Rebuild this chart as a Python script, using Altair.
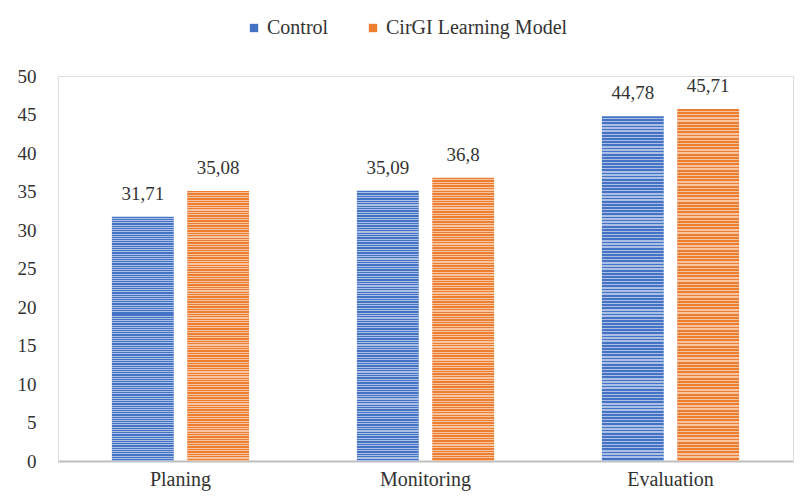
import altair as alt
import pandas as pd

categories = ["Planing", "Monitoring", "Evaluation"]
series = ["Control", "CirGI Learning Model"]
control_values = [31.71, 35.09, 44.78]
cirgi_values = [35.08, 36.8, 45.71]
colors = ["#4472C4", "#ED7D31"]

rows = []
for c, v in zip(categories, control_values):
    rows.append({"category": c, "series": series[0], "value": v})
for c, v in zip(categories, cirgi_values):
    rows.append({"category": c, "series": series[1], "value": v})
df = pd.DataFrame(rows)

FONT = "Liberation Serif"

# fine horizontal white stripe texture (style only)
N = 110
stops = []
for i in range(N):
    a = i / N
    b = (i + 0.55) / N
    e = (i + 1) / N
    stops += [
        {"offset": a, "color": "rgba(255,255,255,0)"},
        {"offset": b, "color": "rgba(255,255,255,0)"},
        {"offset": b, "color": "rgba(255,255,255,0.55)"},
        {"offset": e, "color": "rgba(255,255,255,0.55)"},
    ]
stripe = {"gradient": "linear", "x1": 0, "y1": 0, "x2": 0, "y2": 1, "stops": stops}

x_enc = alt.X("category:N", sort=categories, title=None,
              scale=alt.Scale(paddingInner=0.44, paddingOuter=0.22),
              axis=alt.Axis(labelAngle=0, labelFont=FONT, labelFontSize=20,
                            labelColor="#333333", labelPadding=8,
                            domainColor="#BFBFBF", domainWidth=2, ticks=False))
xo_enc = alt.XOffset("series:N", sort=series,
                     scale=alt.Scale(paddingInner=0.18, paddingOuter=0))
y_enc = alt.Y("value:Q", title=None,
              scale=alt.Scale(domain=[0, 50], nice=False),
              axis=alt.Axis(values=list(range(0, 51, 5)), grid=False, domain=False,
                            ticks=False, labelFont=FONT, labelFontSize=19,
                            labelColor="#333333", labelPadding=22))

base = alt.Chart(df)

bars = base.mark_bar().encode(
    x=x_enc, xOffset=xo_enc, y=y_enc,
    color=alt.Color("series:N", sort=series,
                    scale=alt.Scale(domain=series, range=colors),
                    legend=alt.Legend(title=None, orient="none", direction="horizontal",
                                      legendX=186, legendY=-58,
                                      symbolType="square", symbolSize=70,
                                      symbolStrokeWidth=0,
                                      labelFont=FONT, labelFontSize=20,
                                      labelColor="#333333", labelOffset=3,
                                      labelLimit=400,
                                      columnPadding=34)),
)

texture = base.mark_bar(fill=stripe, stroke=None).encode(
    x=x_enc, xOffset=xo_enc, y=y_enc,
)

labels = base.transform_calculate(
    label="replace(toString(datum.value), '.', ',')"
).mark_text(font=FONT, fontSize=19, color="#333333", dy=-17, baseline="alphabetic").encode(
    x=x_enc, xOffset=xo_enc, y=y_enc, text="label:N",
)

chart = alt.layer(bars, texture, labels).properties(
    width=735, height=385,
    autosize=alt.AutoSizeParams(type="none"),
    padding={"left": 50, "top": 68, "right": 6, "bottom": 39},
).configure_view(stroke=None).configure(background="white")

chart.save("out.html", embed_options={"renderer": "svg", "actions": False})
